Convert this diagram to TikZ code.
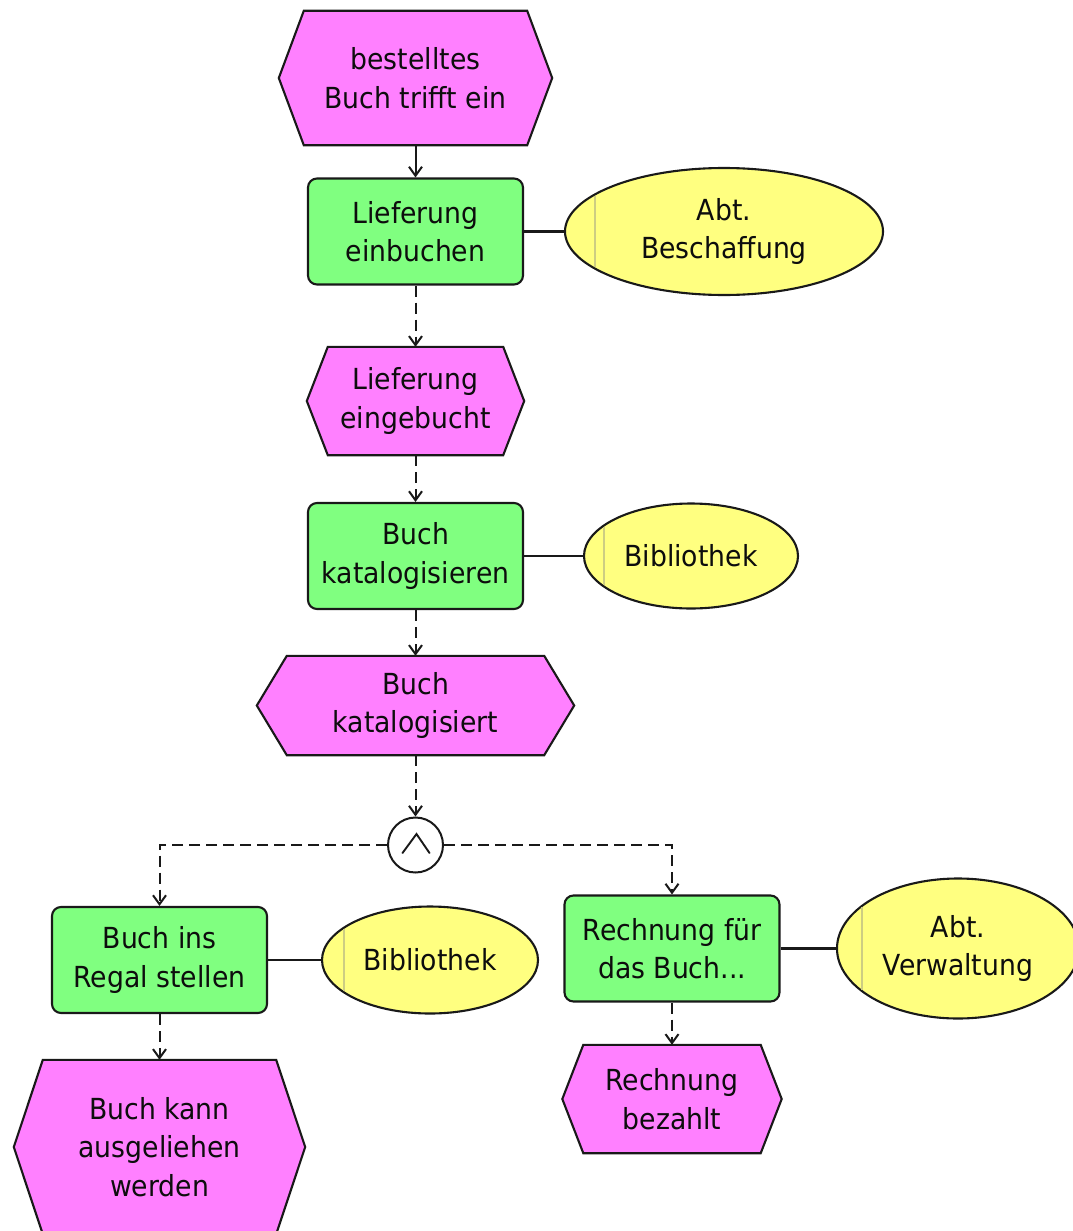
\documentclass[tikz,border=0pt]{standalone}
\usepackage{fontspec}
\setmainfont{DejaVu Sans}[FakeStretch=0.92]
\usetikzlibrary{shapes.geometric,arrows.meta,backgrounds}

\definecolor{evfill}{RGB}{255,128,255}
\definecolor{fnfill}{RGB}{128,255,128}
\definecolor{orgfill}{RGB}{255,255,128}
\definecolor{orgline}{RGB}{205,205,130}
\definecolor{edge}{RGB}{25,25,25}

\tikzset{
  every node/.style={font=\fontsize{29}{38.5}\selectfont, text=black!95, align=center},
  event/.style={shape=rectangle, inner sep=0pt},
  evshape/.style={fill=evfill, draw=edge, line width=2.1pt, line join=miter},
  func/.style={shape=rectangle, rounded corners=9pt, fill=fnfill, draw=edge,
    line width=2.1pt, minimum width=215pt, minimum height=106pt, inner sep=0pt},
  orgunit/.style={shape=ellipse, fill=orgfill, draw=edge, line width=2.1pt, inner sep=0pt},
  andop/.style={shape=circle, fill=white, draw=edge, line width=2pt, minimum size=55pt, inner sep=0pt},
  flow/.style={draw=edge, line width=2pt, dash pattern=on 11pt off 6pt,
    -{Straight Barb[length=9pt,width=13pt,line width=2pt]}},
  solidflow/.style={draw=edge, line width=2pt,
    -{Straight Barb[length=9pt,width=13pt,line width=2pt]}},
  assign/.style={draw=edge, line width=2.1pt},
  orgmark/.style={draw=orgline, line width=1.3pt}
}

\begin{document}
\begin{tikzpicture}[x=1pt,y=-1pt]
\useasboundingbox (0,0) rectangle (1073,1231);

% events (hexagon outline is added on the background layer)
\node[event, minimum width=223pt, minimum height=134pt] (e1) at (415.5,78) {bestelltes\\Buch trifft ein};
\node[event, minimum width=175pt, minimum height=108pt] (e2) at (415.5,401) {Lieferung\\eingebucht};
\node[event, minimum width=257pt, minimum height=99pt] (e3) at (415.5,705.5) {Buch\\katalogisiert};
\node[event, minimum width=233pt, minimum height=174pt] (e4) at (159.5,1147) {Buch kann\\ausgeliehen\\werden};
\node[event, minimum width=177pt, minimum height=108pt] (e5) at (672,1099) {Rechnung\\bezahlt};

% functions
\node[func] (f1) at (415.5,231.5) {Lieferung\\einbuchen};
\node[func] (f2) at (415.5,556) {Buch\\katalogisieren};
\node[func] (f3) at (159.5,960) {Buch ins\\Regal stellen};
\node[func] (f4) at (672,948.5) {Rechnung für\\das Buch...};

% organisational units
\node[orgunit, minimum width=318pt, minimum height=127pt] (o1) at (724,231.5) {Abt.\\Beschaffung};
\node[orgunit, minimum width=214pt, minimum height=105pt] (o2) at (691,556) {Bibliothek};
\node[orgunit, minimum width=216pt, minimum height=107pt] (o3) at (430,960) {Bibliothek};
\node[orgunit, minimum width=242pt, minimum height=140pt] (o4) at (958,948.5) {Abt.\\Verwaltung};

% AND connector
\node[andop] (and) at (415.5,845) {};
\draw[edge, line width=1.9pt, line cap=round]
  ([shift={(-13,8)}]and.center) -- ([shift={(1,-11)}]and.center) -- ([shift={(14,8)}]and.center);

% hexagon outlines for the events
\begin{pgfonlayer}{background}
\foreach \n/\d in {e1/25,e2/21,e3/30,e4/29,e5/21}{
  \path[evshape] (\n.north west) -- (\n.north east) -- ([xshift=\d]\n.east)
    -- (\n.south east) -- (\n.south west) -- ([xshift=-\d]\n.west) -- cycle;
}
\end{pgfonlayer}

% thin marker line inside each organisational unit
\foreach \n/\rx/\ry/\d in {o1/159/63.5/30, o2/107/52.5/20, o3/108/53.5/22, o4/121/70/25}{
  \draw[orgmark] ([shift={({-\rx+\d},{\ry*sqrt(1-(1-\d/\rx)^2)-1.5})}]\n.center)
    -- ([shift={({-\rx+\d},{-\ry*sqrt(1-(1-\d/\rx)^2)+1.5})}]\n.center);
}

% control flow
\draw[solidflow] (e1.south) -- (f1.north);
\draw[flow] (f1.south) -- (e2.north);
\draw[flow] (e2.south) -- (f2.north);
\draw[flow] (f2.south) -- (e3.north);
\draw[flow] (e3.south) -- (and.north);
\draw[flow] (and.west) -| (f3.north);
\draw[flow] (and.east) -| (f4.north);
\draw[flow] (f3.south) -- (e4.north);
\draw[flow] (f4.south) -- (e5.north);

% assignments of organisational units
\draw[assign] (f1.east) -- (o1.west);
\draw[assign] (f2.east) -- (o2.west);
\draw[assign] (f3.east) -- (o3.west);
\draw[assign] (f4.east) -- (o4.west);
\end{tikzpicture}
\end{document}
